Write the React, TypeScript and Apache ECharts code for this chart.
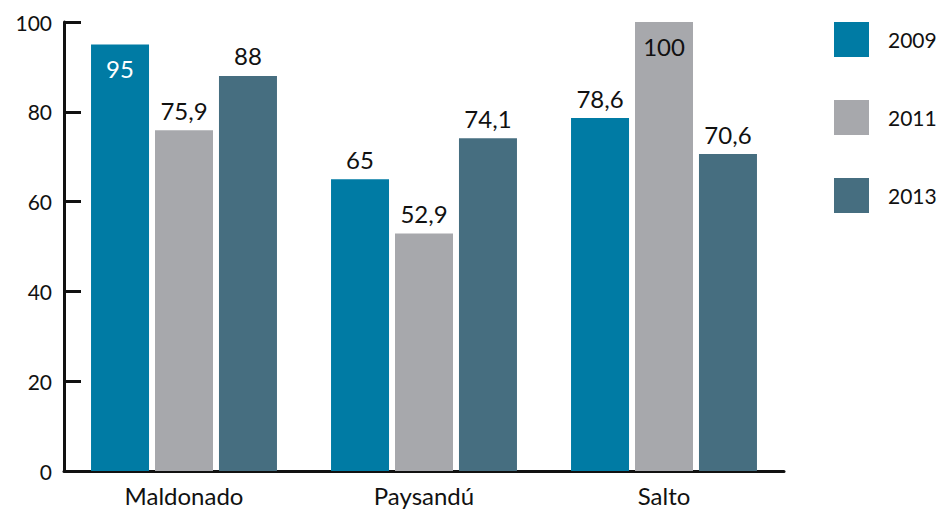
import React, { useEffect, useRef } from "react";
import * as echarts from "echarts";

const categories = ["Maldonado", "Paysandú", "Salto"];
const seriesNames = ["2009", "2011", "2013"];
const values2009 = [95, 65, 78.6];
const values2011 = [75.9, 52.9, 100];
const values2013 = [88, 74.1, 70.6];
const yTicks = [0, 20, 40, 60, 80, 100];

const colors = ["#007BA4", "#A7A8AC", "#466E80"];
const FONT = "Lato, 'Open Sans', sans-serif";

function fmt(v: number) {
  return String(v).replace(".", ",");
}

export default function App() {
  const ref = useRef<HTMLDivElement>(null);
  useEffect(() => {
    if (!ref.current) return;
    const chart = echarts.init(ref.current, undefined, { renderer: "svg" });
    const all = [values2009, values2011, values2013];
    const series = all.map((vals, si) => ({
      name: seriesNames[si],
      type: "bar",
      barWidth: 58,
      barGap: "10.3%",
      itemStyle: { color: colors[si] },
      data: vals.map((v) => {
        const inside = v >= 95;
        return {
          value: v,
          label: {
            show: true,
            position: inside ? "insideTop" : "top",
            distance: inside ? 12 : 8,
            color: inside && si === 0 ? "#ffffff" : "#111111",
            fontSize: 24,
            fontWeight: 400,
            fontFamily: FONT,
            formatter: () => fmt(v),
          },
        };
      }),
    }));
    chart.setOption({
      animation: false,
      textStyle: { fontFamily: FONT },
      grid: { left: 64, top: 22, right: 163, bottom: 38, containLabel: false },
      legend: {
        orient: "vertical",
        left: 834,
        top: 22,
        padding: 0,
        itemWidth: 35,
        itemHeight: 35,
        itemGap: 43,
        icon: "rect",
        data: seriesNames,
        textStyle: {
          fontSize: 21,
          fontWeight: 400,
          color: "#111111",
          fontFamily: FONT,
          padding: [0, 0, 0, 14],
        },
      },
      xAxis: {
        type: "category",
        data: categories,
        axisLine: { lineStyle: { color: "#111", width: 3 } },
        axisTick: { show: false },
        axisLabel: { fontSize: 24, fontWeight: 400, color: "#111111", margin: 12, fontFamily: FONT },
      },
      yAxis: {
        type: "value",
        min: yTicks[0],
        max: yTicks[yTicks.length - 1],
        interval: 20,
        axisLine: { show: true, lineStyle: { color: "#111", width: 3 } },
        axisTick: { show: true, inside: true, length: 17, lineStyle: { color: "#111", width: 3 } },
        splitLine: { show: false },
        axisLabel: { fontSize: 21, fontWeight: 400, color: "#111111", margin: 12, fontFamily: FONT },
      },
      series,
    });
    return () => chart.dispose();
  }, []);
  return <div ref={ref} style={{ width: 947, height: 509, position: "absolute", left: 0, top: 0 }} />;
}
